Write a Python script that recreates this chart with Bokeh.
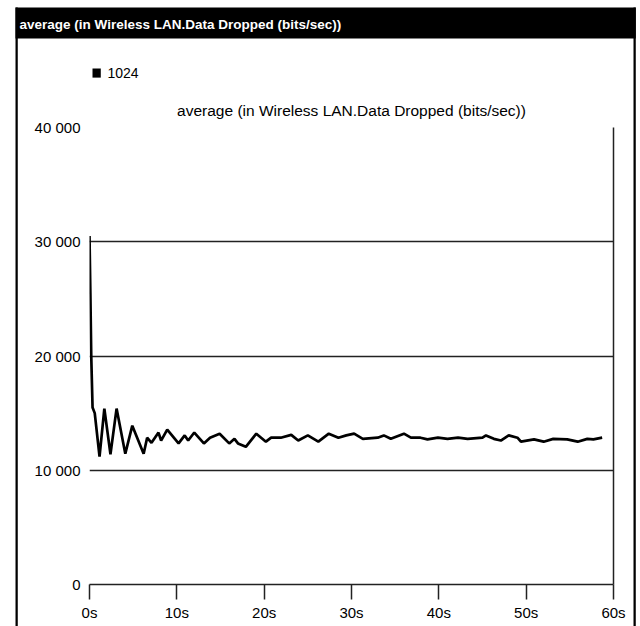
from bokeh.plotting import figure
from bokeh.models import LinearAxis, FixedTicker, Label, Range1d, Grid
from bokeh.embed import file_html
from bokeh.resources import INLINE

title_text = "average (in Wireless LAN.Data Dropped (bits/sec))"
series_name = "1024"

time_s = [0.0, 0.1, 0.2, 0.35, 0.6, 1.15, 1.7, 2.4, 3.1, 4.1, 4.9, 6.2, 6.6, 7.1,
          7.9, 8.2, 8.9, 10.2, 10.9, 11.3, 12.0, 13.1, 13.8, 14.9, 16.0, 16.6,
          17.0, 17.9, 19.1, 20.2, 20.8, 21.9, 23.1, 23.9, 25.0, 26.2, 27.4,
          28.5, 29.4, 30.3, 31.3, 33.0, 33.7, 34.5, 36.0, 36.8, 37.9, 38.7,
          39.9, 41.0, 42.2, 43.3, 45.0, 45.4, 46.3, 47.1, 48.0, 49.0, 49.4,
          50.9, 52.0, 53.1, 54.7, 55.9, 57.0, 57.7, 58.7]
dropped = [30500, 25500, 20000, 15500, 15000, 11200, 15400, 11400, 15400, 11450,
           13900, 11450, 12850, 12400, 13300, 12600, 13550, 12350, 13050, 12600,
           13300, 12350, 12850, 13200, 12350, 12750, 12350, 12050, 13200, 12500,
           12850, 12850, 13100, 12600, 13050, 12500, 13200, 12850, 13050, 13200,
           12750, 12850, 13050, 12750, 13200, 12850, 12850, 12700, 12850, 12750,
           12850, 12750, 12850, 13050, 12750, 12600, 13050, 12850, 12500, 12700,
           12500, 12750, 12700, 12500, 12750, 12700, 12850]

x_ticks = [0, 10, 20, 30, 40, 50, 60]
x_tick_labels = ["0s", "10s", "20s", "30s", "40s", "50s", "60s"]
y_ticks = [0, 10000, 20000, 30000, 40000]
y_tick_labels = ["0", "10 000", "20 000", "30 000", "40 000"]
grid_values = [10000, 20000, 30000]

W, H = 640, 626
FONT = "Liberation Sans"

p = figure(width=W, height=H, output_backend="svg", toolbar_location=None,
           x_range=Range1d(0, 60), y_range=Range1d(0, 40000),
           x_axis_type=None, y_axis_type=None,
           min_border_left=89, min_border_right=27, min_border_top=127,
           min_border_bottom=42)
p.outline_line_color = None
p.background_fill_color = "white"
p.border_fill_color = "white"

yaxis = LinearAxis(ticker=FixedTicker(ticks=y_ticks),
                   major_label_overrides={t: l for t, l in zip(y_ticks, y_tick_labels)},
                   axis_line_color=None, major_tick_line_color=None,
                   minor_tick_line_color=None, major_tick_out=0, major_tick_in=0,
                   major_label_standoff=9, major_label_text_font=FONT,
                   major_label_text_font_size="15px", major_label_text_color="black")
p.add_layout(yaxis, "left")

xaxis = LinearAxis(ticker=FixedTicker(ticks=x_ticks),
                   major_label_overrides={t: l for t, l in zip(x_ticks, x_tick_labels)},
                   axis_line_color="#222222", axis_line_width=1.5,
                   major_tick_line_color="#222222", major_tick_line_width=1.5,
                   minor_tick_line_color=None, major_tick_out=15, major_tick_in=0,
                   major_label_standoff=4, major_label_text_font=FONT,
                   major_label_text_font_size="15px", major_label_text_color="black")
p.add_layout(xaxis, "below")

raxis = LinearAxis(ticker=FixedTicker(ticks=[]), axis_line_color="#222222",
                   axis_line_width=1.5, major_tick_line_color=None,
                   minor_tick_line_color=None, major_label_text_font_size="0px")
p.add_layout(raxis, "right")

grid = Grid(dimension=1, ticker=FixedTicker(ticks=grid_values),
            grid_line_color="#222222", grid_line_width=1.5)
p.add_layout(grid)

p.line(time_s, dropped, line_color="black", line_width=2.7)


def block(x, y, w, h):
    """A solid black rectangle placed in canvas pixels (top-down)."""
    return Label(x=x, y=y, x_units="canvas", y_units="canvas", text=" ",
                 text_font_size="1px", text_align="left", text_baseline="top",
                 background_fill_color="black", background_fill_alpha=1.0,
                 padding=dict(left=0, right=w, top=0, bottom=h))


# window frame: title bar and side borders (placed in side panels: not clipped)
p.add_layout(block(15, 7, 620, 30), "above")
p.add_layout(block(15, 7, 2, 619), "left")
p.add_layout(block(633, 7, 2, 619), "right")
p.add_layout(Label(x=19, y=24, x_units="canvas", y_units="canvas",
                   text=title_text, text_color="white", text_font_style="bold",
                   text_font=FONT, text_font_size="13.5px",
                   text_baseline="middle"), "above")

# legend
p.add_layout(block(92, 68, 8, 8), "above")
p.add_layout(Label(x=107, y=72, x_units="canvas", y_units="canvas",
                   text=series_name, text_color="black", text_font=FONT,
                   text_font_size="14px", text_baseline="middle"), "above")

# chart subtitle
p.add_layout(Label(x=351, y=110, x_units="canvas", y_units="canvas",
                   text=title_text, text_color="black", text_font=FONT,
                   text_font_size="15.5px", text_baseline="middle",
                   text_align="center"), "above")

open("out.html", "w").write(file_html(p, INLINE))
